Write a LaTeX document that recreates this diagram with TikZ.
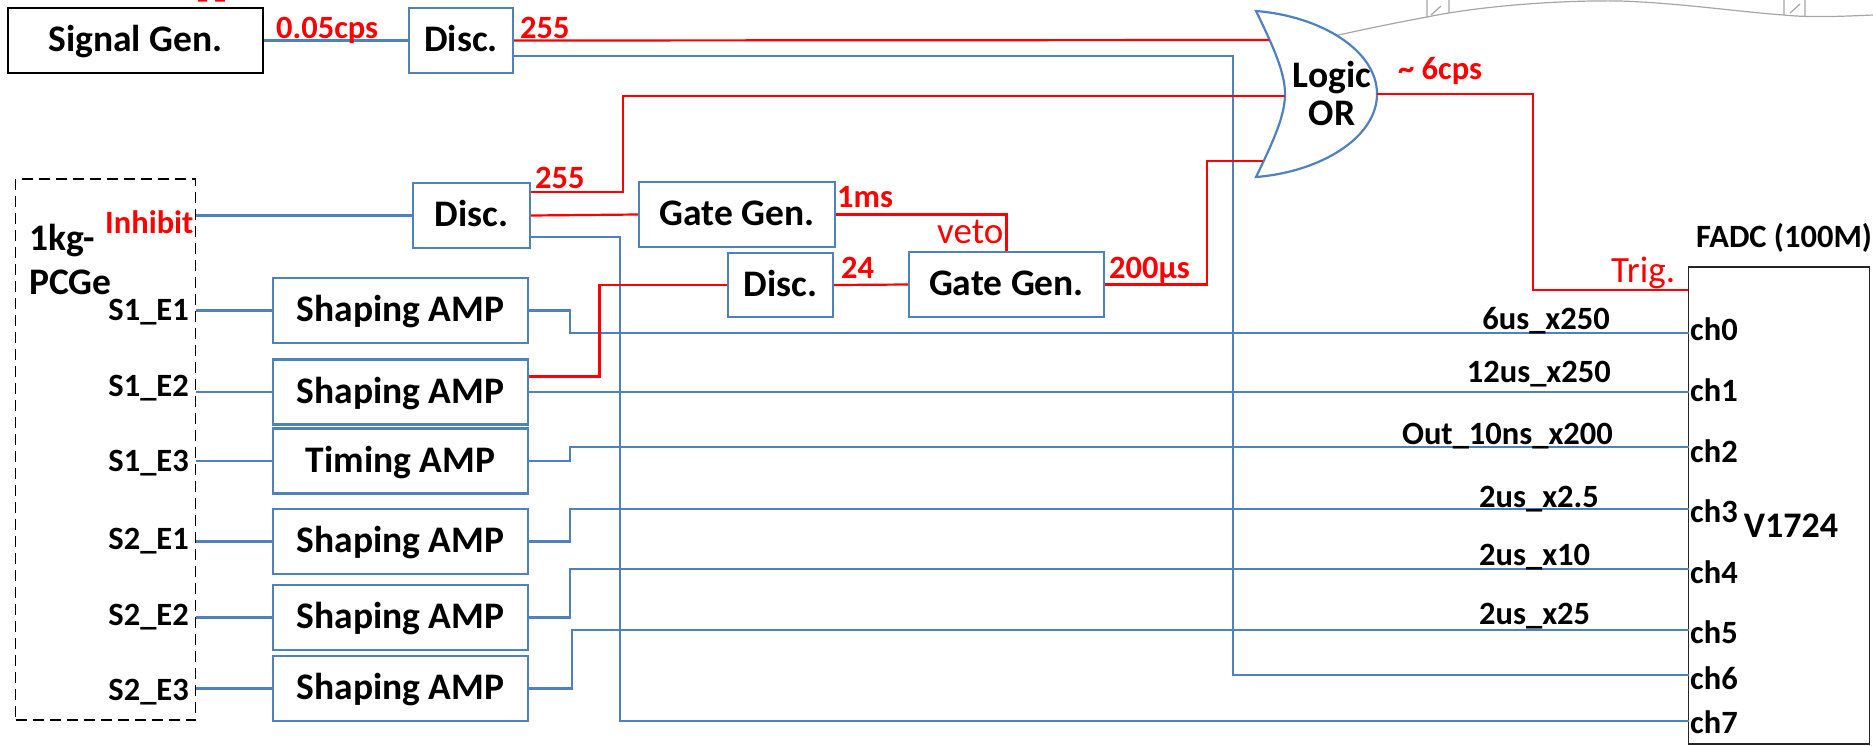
\documentclass[tikz,border=0pt]{standalone}
\usepackage{fontspec}
\setmainfont{Carlito}
\definecolor{wireblue}{HTML}{4F81BD}
\definecolor{wirered}{HTML}{FF0000}
\tikzset{
  modbox/.style={draw=wireblue,line width=2.2pt,fill=white,inner sep=0pt,text height=29pt,text depth=7pt,font=\fontsize{37.5}{40}\selectfont\bfseries},
  bluewire/.style={draw=wireblue,line width=2.2pt},
  redwire/.style={draw=wirered,line width=2.2pt},
  redlab/.style={text=wirered,inner sep=0pt,anchor=base west,font=\fontsize{32.5}{34}\selectfont\bfseries},
  redthin/.style={text=wirered,inner sep=0pt,anchor=base west,font=\fontsize{37}{39}\selectfont},
  blacklab/.style={inner sep=0pt,font=\fontsize{32.5}{35}\selectfont\bfseries},
  biglab/.style={inner sep=0pt,font=\fontsize{37.5}{40}\selectfont\bfseries},
}
\begin{document}
\begin{tikzpicture}[x=1pt,y=-1pt]
  \useasboundingbox (0,0) rectangle (1873,745);

  % Trazo gris cortado arriba
  \draw[gray!70,line width=1.2pt] (1334,36) .. controls (1370,28) and (1400,22) .. (1427,17)
    .. controls (1480,6) and (1560,0) .. (1620,1) .. controls (1680,3) and (1740,12) .. (1784,15)
    .. controls (1810,18) and (1850,16) .. (1873,15);
  \draw[gray!70,line width=1.2pt] (1427,17) -- (1427,0) (1449,13) -- (1449,0) (1431,15) -- (1441,6);
  \draw[gray!70,line width=1.2pt] (1784,15) -- (1784,0) (1805,16) -- (1805,0) (1790,13) -- (1800,4);
  \fill[wirered] (198,0) rectangle (207,1.5) (215,0) rectangle (225,1.5);

  % Modulos de arriba
  \node[modbox,draw=black,minimum width=255pt,minimum height=65pt] (siggen) at (135.5,40.5) {Signal Gen.};
  \node[modbox,minimum width=104pt,minimum height=65pt] (dsca) at (461,40.5) {Disc.};
  \node[modbox,minimum width=117pt,minimum height=65pt] (dscb) at (471.5,215.5) {Disc.};
  \node[modbox,minimum width=196pt,minimum height=65pt] (gatea) at (737,214.5) {Gate Gen.};
  \node[modbox,minimum width=105pt,minimum height=64pt] (dscc) at (780.5,285) {Disc.};
  \node[modbox,minimum width=195pt,minimum height=65pt] (gateb) at (1006.5,284.5) {Gate Gen.};

  % Amplificadores
  \foreach \nm/\yc/\txt in {ampa/310.5/Shaping AMP,ampb/392/Shaping AMP,ampc/461/Timing AMP,
    ampd/541.5/Shaping AMP,ampe/617.5/Shaping AMP,ampf/688.5/Shaping AMP}
    \node[modbox,minimum width=255pt,minimum height=65pt] (\nm) at (400.5,\yc) {\txt};

  % Detector
  \node[draw,dashed,line width=1.6pt,dash pattern=on 11pt off 6pt,minimum width=180pt,minimum height=541pt,inner sep=0pt] (pcge) at (105.5,449.5) {};
  \node[biglab,anchor=base west] (kg) at (29,250) {1kg-};
  \node[biglab,anchor=base west] (ge) at (29,294) {PCGe};
  \node[redlab] (inh) at (105,233) {Inhibit};
  \foreach \nm/\yc/\txt in {sa/312/S1\_E1,sb/388/S1\_E2,sc/463/S1\_E3,sd/541/S2\_E1,se/617/S2\_E2,sf/692/S2\_E3}
    \node[blacklab,anchor=east] (\nm) at (189,\yc) {\txt};

  % FADC
  \node[draw=black!85,line width=1.6pt,minimum width=181pt,minimum height=477pt,inner sep=0pt] (fadc) at (1779,505.5) {};
  \node[blacklab,anchor=base west] (fadctit) at (1696,247) {FADC (100M)};
  \node[biglab,font=\fontsize{36}{40}\selectfont\bfseries] (vmod) at (1791,526) {V1724};
  \foreach \i/\yw/\yt in {0/333/329,1/392/390,2/447/451,3/509/511,4/569/572,5/630/632,6/675/678,7/721/722}{
    \coordinate (port\i) at (1689,\yw);
    \node[blacklab,anchor=west] (ch\i) at (1690,\yt) {ch\i};
  }

  % Puerta OR
  \draw[wireblue,line width=2.2pt,fill=white] (1256,11) .. controls (1320,16) and (1377,50) .. (1377,94)
    .. controls (1377,138) and (1320,172) .. (1256,177)
    .. controls (1274,140) and (1285,115) .. (1285,94)
    .. controls (1285,73) and (1274,48) .. (1256,11) -- cycle;
  \node[align=center,inner sep=0pt,font=\fontsize{37.5}{38}\selectfont\bfseries] (logor) at (1332,93) {Logic\\OR};
  \coordinate (ora) at (1269,40);
  \coordinate (orb) at (1285,96);
  \coordinate (orc) at (1263,161);
  \coordinate (orout) at (1377,94);
  \coordinate (trig) at (1688,290);

  % Cables azules
  \draw[bluewire] (siggen.east) -- (dsca.west);
  \draw[bluewire] (dscb.west -| pcge.east) -- (dscb.west);
  \foreach \nm in {ampa,ampb,ampc,ampd,ampe,ampf}
    \draw[bluewire] (\nm.west -| pcge.east) -- (\nm.west);
  \draw[bluewire] (ampa.east) -- ++(41,0) |- (port0);
  \draw[bluewire] (ampb.east) -- (port1);
  \draw[bluewire] (ampc.east) -- ++(41,0) |- (port2);
  \draw[bluewire] (ampd.east) -- ++(41,0) |- (port3);
  \draw[bluewire] (ampe.east) -- ++(41,0) |- (port4);
  \draw[bluewire] (ampf.east) -- ++(43,0) |- (port5);
  \draw[bluewire] ([yshift=-15.5pt]dsca.east) -| (1233,300) |- (port6);
  \draw[bluewire] ([yshift=-21.5pt]dscb.east) -| (620,400) |- (port7);

  % Cables rojos
  \draw[redwire] (dsca.east) -- (ora);
  \draw[redwire] ([yshift=23.5pt]dscb.east) -| (623,150) |- (orb);
  \draw[redwire] (dscb.east) -- (gatea.west);
  \draw[redwire] (gatea.east) -| (gateb.north);
  \draw[redwire] ([yshift=15.5pt]ampb.east) -| (599.5,330) |- (dscc.west);
  \draw[redwire] (dscc.east) -- (gateb.west);
  \draw[redwire] (gateb.east) -| (1207,220) |- (orc);
  \draw[redwire] (orout) -| (1533,200) |- (trig);

  % Etiquetas rojas
  \node[redlab] (lsig) at (276,38) {0.05cps};
  \node[redlab] (lda) at (520,38) {255};
  \node[redlab] (ldb) at (535,188) {255};
  \node[redlab] (lga) at (837,207) {1ms};
  \node[redthin] (lveto) at (937,243) {veto};
  \node[redlab] (ldc) at (841,278) {24};
  \node[redlab] (lgb) at (1109,278) {200µs};
  \node[redlab] (lrate) at (1398,79) {\textasciitilde{} 6cps};
  \node[redthin] (ltrig) at (1611,282) {Trig.};

  % Etiquetas de canales
  \node[blacklab,anchor=base east] (la) at (1610,329) {6us\_x250};
  \node[blacklab,anchor=base east] (lb) at (1611,382) {12us\_x250};
  \node[blacklab,anchor=base east] (lc) at (1613,444) {Out\_10ns\_x200};
  \node[blacklab,anchor=base west] (ld) at (1479,507) {2us\_x2.5};
  \node[blacklab,anchor=base west] (le) at (1479,565) {2us\_x10};
  \node[blacklab,anchor=base west] (lf) at (1479,624) {2us\_x25};
\end{tikzpicture}
\end{document}
